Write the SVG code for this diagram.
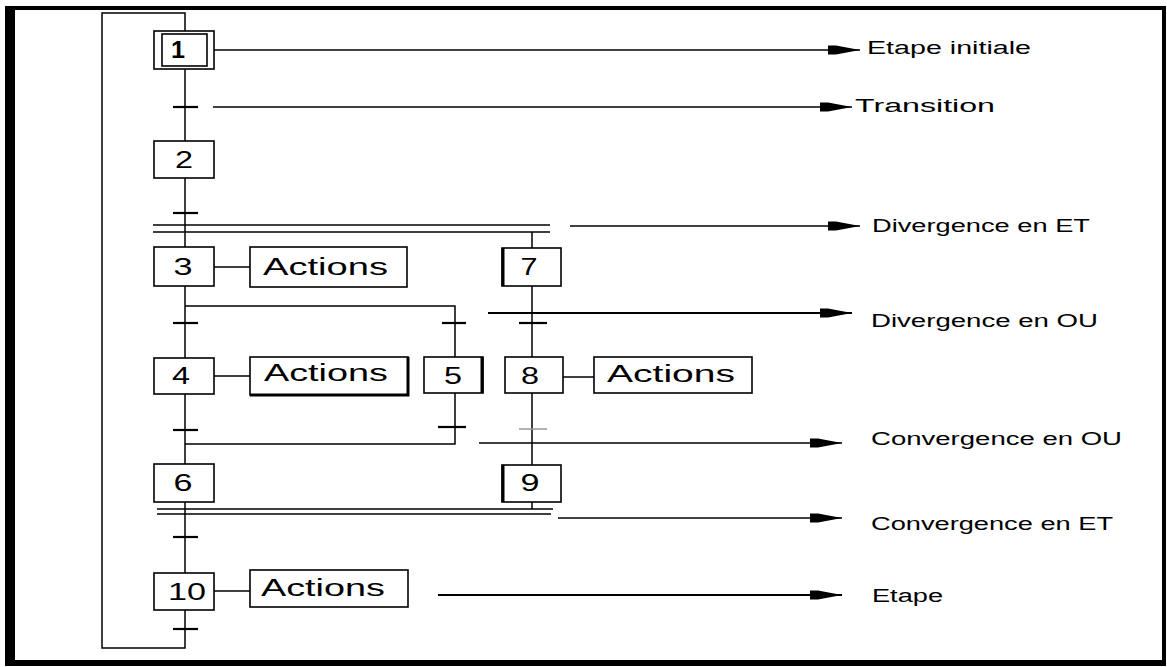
<svg xmlns="http://www.w3.org/2000/svg" width="1167" height="667" viewBox="0 0 1167 667">
<style>
.ln{stroke:#000;stroke-width:1.5;fill:none}
.tr{stroke:#000;stroke-width:2.2;fill:none}
.box{fill:#fff;stroke:#000;stroke-width:1.6}
.num{font-family:"Liberation Sans",Arial,sans-serif;font-size:23px;text-anchor:middle;fill:#000}
.act{font-family:"Liberation Sans",Arial,sans-serif;font-size:23px;fill:#000}
.lab{font-family:"Liberation Sans",Arial,sans-serif;font-size:18px;fill:#000}
</style>
<defs>
<marker id="ah" markerUnits="userSpaceOnUse" markerWidth="34" markerHeight="12" refX="32" refY="6" orient="auto" overflow="visible">
<path d="M0,1.5 L8,1.5 L20,3.8 L32,6 L20,8.2 L8,10.5 L0,10.5 Z" fill="#000"/>
</marker>
</defs>
<rect x="0" y="0" width="1167" height="667" fill="#fff"/>
<g id="frame">
<rect x="5" y="6" width="1161" height="4" fill="#000"/>
<rect x="5" y="6" width="10" height="660" fill="#000"/>
<rect x="1162" y="6" width="4" height="660" fill="#000"/>
<rect x="5" y="660" width="1161" height="6" fill="#000"/>
</g>
<g id="connectors">
<path class="ln" d="M185,31 V13 H102 V648 H185 V610"/>
<line class="ln" x1="185" y1="69" x2="185" y2="141"/>
<line class="ln" x1="185" y1="178" x2="185" y2="247"/>
<line class="ln" x1="185" y1="286" x2="185" y2="358"/>
<line class="ln" x1="185" y1="394" x2="185" y2="464"/>
<line class="ln" x1="185" y1="502" x2="185" y2="573"/>
<line class="ln" x1="153" y1="225" x2="550" y2="225"/>
<line class="ln" x1="153" y1="232" x2="550" y2="232"/>
<line class="ln" x1="532" y1="232" x2="532" y2="248"/>
<line class="ln" x1="532" y1="286" x2="532" y2="357"/>
<line class="ln" x1="532" y1="393" x2="532" y2="465"/>
<line class="ln" x1="532" y1="502" x2="532" y2="509"/>
<path class="ln" d="M185,306 H455 V357"/>
<path class="ln" d="M455,393 V444 H185"/>
<line class="ln" x1="157" y1="509" x2="553" y2="509"/>
<line class="ln" x1="157" y1="514" x2="551" y2="514"/>
<line class="tr" x1="173" y1="107" x2="198" y2="107"/>
<line class="tr" x1="173" y1="213" x2="198" y2="213"/>
<line class="tr" x1="173" y1="323" x2="198" y2="323"/>
<line class="tr" x1="442" y1="323" x2="466" y2="323"/>
<line class="tr" x1="519" y1="323" x2="547" y2="323"/>
<line class="tr" x1="173" y1="430" x2="198" y2="430"/>
<line class="tr" x1="438" y1="427" x2="466" y2="427"/>
<line x1="519" y1="429" x2="547" y2="429" stroke="#999" stroke-width="1.5"/>
<line class="tr" x1="173" y1="537" x2="198" y2="537"/>
<line class="tr" x1="173" y1="629" x2="198" y2="629"/>
<line class="ln" x1="214" y1="267" x2="250" y2="267"/>
<line class="ln" x1="214" y1="376" x2="250" y2="376"/>
<line class="ln" x1="563" y1="377" x2="594" y2="377"/>
<line class="ln" x1="214" y1="591" x2="250" y2="591"/>
<line class="ln" x1="214" y1="50" x2="860" y2="50" marker-end="url(#ah)"/>
<line class="ln" x1="213" y1="107" x2="852" y2="107" marker-end="url(#ah)"/>
<line class="ln" x1="570" y1="226" x2="860" y2="226" marker-end="url(#ah)"/>
<line x1="488" y1="313" x2="852" y2="313" stroke="#000" stroke-width="2" marker-end="url(#ah)"/>
<line class="ln" x1="479" y1="443" x2="842" y2="443" marker-end="url(#ah)"/>
<line class="ln" x1="558" y1="518" x2="842" y2="518" marker-end="url(#ah)"/>
<line x1="438" y1="595" x2="842" y2="595" stroke="#000" stroke-width="2" marker-end="url(#ah)"/>
</g>
<g id="step1">
<rect class="box" x="154" y="31" width="60" height="38"/>
<rect class="box" x="162" y="34" width="45" height="32"/>
<text class="num" x="178" y="58" font-weight="bold" font-size="25" textLength="14" lengthAdjust="spacingAndGlyphs">1</text>
</g>
<g id="step2">
<rect class="box" x="154" y="141" width="60" height="37"/>
<text class="num" x="184" y="168" textLength="18" lengthAdjust="spacingAndGlyphs">2</text>
</g>
<g id="step3">
<rect class="box" x="154" y="247" width="60" height="39"/>
<text class="num" x="183" y="275" textLength="19" lengthAdjust="spacingAndGlyphs">3</text>
</g>
<g id="actions3">
<rect class="box" x="250" y="247" width="157" height="40"/>
<text class="act" x="263" y="275" textLength="125" lengthAdjust="spacingAndGlyphs">Actions</text>
</g>
<g id="step7">
<rect class="box" x="502" y="248" width="59" height="38"/>
<line x1="503" y1="248" x2="503" y2="286" stroke="#000" stroke-width="3"/>
<text class="num" x="529" y="275" textLength="17" lengthAdjust="spacingAndGlyphs">7</text>
</g>
<g id="step4">
<rect class="box" x="154" y="358" width="60" height="36"/>
<text class="num" x="181" y="384" textLength="18" lengthAdjust="spacingAndGlyphs">4</text>
</g>
<g id="actions4">
<rect class="box" x="250" y="357" width="158" height="38"/>
<path d="M408,357 V395 H250" stroke="#000" stroke-width="3" fill="none"/>
<text class="act" x="264" y="381" textLength="124" lengthAdjust="spacingAndGlyphs">Actions</text>
</g>
<g id="step5">
<rect class="box" x="424" y="357" width="59" height="36"/>
<line x1="482" y1="357" x2="482" y2="393" stroke="#000" stroke-width="3"/>
<text class="num" x="453" y="384" textLength="18" lengthAdjust="spacingAndGlyphs">5</text>
</g>
<g id="step8">
<rect class="box" x="505" y="357" width="58" height="36"/>
<text class="num" x="530" y="384" textLength="18" lengthAdjust="spacingAndGlyphs">8</text>
</g>
<g id="actions8">
<rect class="box" x="594" y="357" width="158" height="36"/>
<text class="act" x="607" y="382" textLength="128" lengthAdjust="spacingAndGlyphs">Actions</text>
</g>
<g id="step6">
<rect class="box" x="154" y="464" width="60" height="38"/>
<text class="num" x="183" y="491" textLength="19" lengthAdjust="spacingAndGlyphs">6</text>
</g>
<g id="step9">
<rect class="box" x="502" y="465" width="59" height="37"/>
<line x1="503" y1="465" x2="503" y2="502" stroke="#000" stroke-width="3"/>
<text class="num" x="530" y="491" textLength="19" lengthAdjust="spacingAndGlyphs">9</text>
</g>
<g id="step10">
<rect class="box" x="154" y="573" width="60" height="37"/>
<text class="num" x="187" y="600" textLength="38" lengthAdjust="spacingAndGlyphs">10</text>
</g>
<g id="actions10">
<rect class="box" x="250" y="570" width="158" height="37"/>
<text class="act" x="261" y="596" textLength="124" lengthAdjust="spacingAndGlyphs">Actions</text>
</g>
<g id="labels">
<text class="lab" x="867" y="54" textLength="164" lengthAdjust="spacingAndGlyphs">Etape initiale</text>
<text class="lab" x="855" y="112" textLength="140" lengthAdjust="spacingAndGlyphs">Transition</text>
<text class="lab" x="872" y="232" textLength="218" lengthAdjust="spacingAndGlyphs">Divergence en ET</text>
<text class="lab" x="871" y="327" textLength="227" lengthAdjust="spacingAndGlyphs">Divergence en OU</text>
<text class="lab" x="871" y="445" textLength="251" lengthAdjust="spacingAndGlyphs">Convergence en OU</text>
<text class="lab" x="871" y="530" textLength="242" lengthAdjust="spacingAndGlyphs">Convergence en ET</text>
<text class="lab" x="872" y="602" textLength="71" lengthAdjust="spacingAndGlyphs">Etape</text>
</g>
</svg>
